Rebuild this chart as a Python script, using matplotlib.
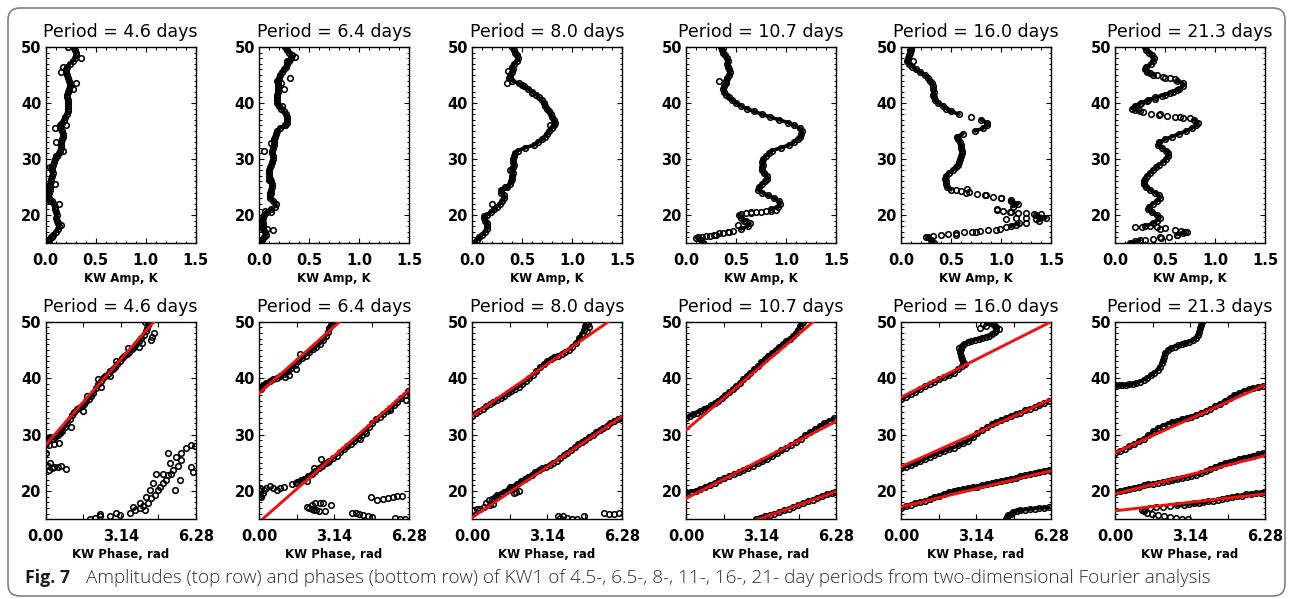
"""
Fig. 7: KW1 amplitude (top) and phase (bottom) profiles for six periods.
"""

import numpy as np
import matplotlib
matplotlib.use('Agg')
import matplotlib.pyplot as plt
from matplotlib.ticker import MultipleLocator, FixedLocator, FixedFormatter
from matplotlib.patches import FancyBboxPatch
from matplotlib.transforms import IdentityTransform

plt.rcParams['font.family'] = ['DejaVu Sans']

PERIODS = ['4.6', '6.4', '8.0', '10.7', '16.0', '21.3']

# ---- top row: amplitude (K) on a 0.5 km altitude grid, 15..50 km
ALT_GRID = np.arange(15.0, 50.01, 0.5)

AMP_46 = [0.03, 0.03, 0.05, 0.07, 0.10, 0.12, 0.13, 0.12, 0.11, 0.10, 0.11, 0.10,
          0.09, 0.09, 0.08, 0.06, 0.03, 0.02, 0.03, 0.04, 0.04, 0.04, 0.05, 0.05,
          0.06, 0.07, 0.06, 0.06, 0.07, 0.08, 0.09, 0.11, 0.13, 0.14, 0.15, 0.15,
          0.15, 0.16, 0.17, 0.17, 0.16, 0.14, 0.14, 0.16, 0.18, 0.19, 0.21, 0.22,
          0.22, 0.22, 0.22, 0.22, 0.21, 0.21, 0.22, 0.23, 0.24, 0.24, 0.23, 0.22,
          0.21, 0.20, 0.20, 0.21, 0.24, 0.27, 0.29, 0.30, 0.30, 0.29, 0.27]
AMP_64 = [0.02, 0.03, 0.05, 0.07, 0.06, 0.04, 0.04, 0.04, 0.03, 0.04, 0.05, 0.08,
          0.12, 0.16, 0.17, 0.14, 0.11, 0.11, 0.11, 0.12, 0.13, 0.13, 0.12, 0.11,
          0.10, 0.10, 0.10, 0.11, 0.12, 0.13, 0.14, 0.14, 0.13, 0.13, 0.14, 0.15,
          0.15, 0.15, 0.16, 0.17, 0.18, 0.21, 0.26, 0.28, 0.28, 0.28, 0.27, 0.25,
          0.22, 0.20, 0.18, 0.18, 0.18, 0.18, 0.19, 0.19, 0.19, 0.19, 0.19, 0.20,
          0.21, 0.23, 0.25, 0.27, 0.28, 0.30, 0.32, 0.33, 0.30, 0.28, 0.26]
AMP_80 = [0.02, 0.05, 0.07, 0.10, 0.13, 0.15, 0.15, 0.15, 0.13, 0.12, 0.15, 0.19,
          0.22, 0.25, 0.28, 0.30, 0.32, 0.32, 0.29, 0.29, 0.35, 0.38, 0.39, 0.40,
          0.40, 0.41, 0.40, 0.41, 0.42, 0.41, 0.41, 0.42, 0.43, 0.46, 0.53, 0.62,
          0.66, 0.70, 0.73, 0.75, 0.77, 0.80, 0.82, 0.83, 0.82, 0.80, 0.79, 0.77,
          0.75, 0.73, 0.72, 0.70, 0.67, 0.64, 0.60, 0.56, 0.52, 0.47, 0.40, 0.37,
          0.38, 0.40, 0.41, 0.40, 0.42, 0.45, 0.46, 0.45, 0.43, 0.42, 0.40]
AMP_107 = [0.17, 0.15, 0.12, 0.30, 0.43, 0.55, 0.62, 0.64, 0.60, 0.55, 0.53, 0.65,
           0.85, 0.92, 0.94, 0.93, 0.88, 0.82, 0.76, 0.72, 0.73, 0.76, 0.79, 0.81,
           0.81, 0.78, 0.76, 0.76, 0.77, 0.76, 0.77, 0.80, 0.83, 0.86, 0.95, 1.03,
           1.08, 1.12, 1.14, 1.15, 1.16, 1.14, 1.08, 1.02, 0.93, 0.84, 0.76, 0.68,
           0.61, 0.55, 0.50, 0.46, 0.43, 0.40, 0.38, 0.37, 0.38, 0.40, 0.40, 0.41,
           0.43, 0.44, 0.43, 0.42, 0.41, 0.42, 0.41, 0.39, 0.37, 0.36, 0.35]
AMP_160 = [0.33, 0.30, 0.27, 0.55, 0.75, 0.99, 1.10, 1.18, 1.38, 1.45, 1.35, 1.10,
           0.96, 1.12, 1.17, 1.10, 1.00, 0.85, 0.65, 0.50, 0.46, 0.45, 0.45, 0.44,
           0.45, 0.48, 0.52, 0.55, 0.57, 0.58, 0.59, 0.60, 0.61, 0.61, 0.60, 0.60,
           0.59, 0.57, 0.56, 0.62, 0.74, 0.82, 0.86, 0.86, 0.80, 0.70, 0.58, 0.50,
           0.45, 0.42, 0.37, 0.34, 0.33, 0.32, 0.33, 0.32, 0.32, 0.31, 0.29, 0.27,
           0.24, 0.19, 0.15, 0.11, 0.08, 0.06, 0.07, 0.08, 0.09, 0.09, 0.10]
AMP_213 = [0.15, 0.25, 0.45, 0.62, 0.70, 0.45, 0.30, 0.38, 0.42, 0.45, 0.42, 0.37,
           0.33, 0.34, 0.38, 0.42, 0.45, 0.44, 0.40, 0.35, 0.31, 0.29, 0.29, 0.30,
           0.32, 0.35, 0.38, 0.41, 0.44, 0.48, 0.51, 0.53, 0.53, 0.51, 0.47, 0.43,
           0.44, 0.50, 0.57, 0.64, 0.71, 0.77, 0.81, 0.83, 0.79, 0.65, 0.45, 0.25,
           0.17, 0.20, 0.26, 0.33, 0.40, 0.50, 0.58, 0.64, 0.68, 0.68, 0.62, 0.50,
           0.38, 0.32, 0.30, 0.31, 0.36, 0.38, 0.39, 0.37, 0.34, 0.31, 0.30]

# extra amplitude points (amp, alt): excursions and outliers
AMP_EXTRA_46 = [(0.09, 35.5), (0.04, 28.5), (0.10, 30.5), (0.17, 31.5), (0.20, 36.0),
                (0.27, 42.5), (0.30, 43.5), (0.35, 48.0), (0.22, 50.0), (0.15, 45.5),
                (0.17, 46.5), (0.00, 24.5), (0.04, 22.5), (0.10, 33.0), (0.13, 22.0),
                (0.15, 18.2), (0.06, 16.1), (0.09, 25.5)]
AMP_EXTRA_64 = [(0.12, 32.8), (0.05, 31.5), (0.10, 26.2), (0.12, 24.0), (0.12, 20.5),
                (0.08, 17.5), (0.14, 17.3), (0.06, 20.8), (0.18, 44.0), (0.22, 43.5),
                (0.25, 42.5), (0.26, 36.0), (0.28, 47.5), (0.36, 48.2), (0.31, 44.5),
                (0.23, 39.5)]
AMP_EXTRA_80 = [(0.35, 43.5), (0.38, 44.6), (0.36, 45.8), (0.38, 28.0), (0.78, 36.0),
                (0.60, 41.8), (0.50, 43.2), (0.33, 25.0), (0.20, 22.0), (0.12, 19.8)]
AMP_EXTRA_107 = [(0.10, 15.9), (0.16, 16.0), (0.20, 16.2), (0.24, 16.3), (0.28, 16.5),
                 (0.33, 16.7), (0.37, 16.8), (0.42, 17.0), (0.47, 17.2), (0.55, 20.2),
                 (0.60, 20.3), (0.65, 20.4), (0.70, 20.5), (0.75, 20.6), (0.80, 20.7),
                 (0.85, 20.8), (0.90, 20.9), (0.33, 44.0), (0.52, 18.3), (0.58, 19.0)]
AMP_EXTRA_160 = [(0.25, 16.0), (0.32, 16.3), (0.40, 16.5), (0.47, 16.6), (0.55, 16.8),
                 (0.63, 16.9), (0.71, 17.0), (0.79, 17.1), (0.87, 17.3), (0.95, 17.4),
                 (1.05, 17.9), (1.15, 18.3), (1.25, 18.6), (1.40, 20.1), (1.33, 20.2),
                 (1.25, 20.3), (1.17, 20.4), (1.09, 20.5), (1.02, 20.7), (0.96, 20.9),
                 (1.05, 19.3), (1.15, 19.4), (1.25, 19.4), (1.35, 19.3), (1.10, 22.6),
                 (1.00, 23.0), (0.92, 23.3), (0.84, 23.6), (0.76, 23.8), (0.68, 24.1),
                 (0.60, 24.3), (0.55, 24.4), (0.66, 24.6), (0.12, 47.5), (0.10, 49.5)]
AMP_EXTRA_213 = [(0.20, 15.3), (0.30, 15.5), (0.38, 15.7), (0.46, 15.9), (0.54, 16.1),
                 (0.62, 16.4), (0.68, 16.7), (0.72, 16.9), (0.66, 17.1), (0.20, 17.8),
                 (0.27, 17.9), (0.35, 18.0), (0.42, 17.9), (0.50, 17.6), (0.60, 17.3),
                 (0.75, 37.3), (0.68, 37.4), (0.60, 37.5), (0.52, 37.6), (0.44, 37.8),
                 (0.36, 38.1), (0.28, 38.4), (0.20, 38.8), (0.25, 39.8), (0.32, 40.3),
                 (0.40, 40.8), (0.47, 41.3), (0.55, 41.8), (0.62, 42.3), (0.60, 44.2),
                 (0.55, 44.4), (0.48, 44.7), (0.42, 45.0), (0.35, 45.3)]

# ---- bottom row: phase branches (rad, alt km) and loose points
PH46_A = [(0.0, 28.6), (0.1, 29.2), (0.2, 29.6), (0.3, 29.3), (0.4, 29.5), (0.5, 29.9),
          (0.6, 30.3), (0.7, 30.6), (0.8, 31.3), (0.9, 32.0), (1.0, 32.7), (1.1, 33.4),
          (1.2, 34.0), (1.3, 34.5), (1.4, 34.8), (1.5, 35.1), (1.6, 35.5), (1.7, 35.9),
          (1.8, 36.3), (1.9, 36.8), (2.0, 37.4), (2.1, 38.2), (2.2, 38.9), (2.3, 39.5),
          (2.4, 40.0), (2.5, 40.4), (2.6, 40.8), (2.7, 41.2), (2.8, 41.6), (2.9, 42.0),
          (3.0, 42.5), (3.1, 43.0), (3.2, 43.5), (3.3, 43.9), (3.4, 44.3), (3.5, 44.7),
          (3.6, 45.1), (3.7, 45.6), (3.8, 46.1), (3.9, 46.6), (4.0, 47.1), (4.1, 47.7),
          (4.2, 48.3), (4.25, 48.9), (4.3, 49.4), (4.3, 50.0)]
PH46_SCAT = [(0.0, 26.8), (0.15, 28.1), (0.35, 28.4), (0.55, 28.6), (1.05, 31.4), (1.55, 34.2),
             (1.75, 36.9), (2.3, 38.4), (2.2, 39.8), (2.7, 40.3), (2.95, 43.0), (3.45, 45.3),
             (3.9, 45.5), (4.05, 46.3), (4.15, 49.9), (4.45, 47.3), (4.55, 48.0), (4.4, 46.7),
             (0.1, 24.5), (0.15, 23.8), (0.25, 24.0), (0.35, 24.3), (0.5, 24.2), (0.65, 24.4),
             (0.85, 23.9), (0.2, 24.9),
             (1.85, 15.0), (2.27, 15.5), (2.69, 15.6), (3.1, 15.8), (3.52, 16.2), (3.73, 16.7),
             (3.94, 17.0), (4.08, 17.4), (4.29, 17.8), (4.43, 18.7), (4.57, 19.3), (4.71, 20.2),
             (4.78, 20.8), (4.92, 21.4), (5.06, 22.0), (5.13, 22.9), (5.26, 23.1), (5.33, 23.7),
             (5.2, 24.9), (5.47, 26.1), (5.68, 26.7), (5.89, 27.6), (6.1, 28.2), (6.24, 27.9),
             (5.13, 26.7), (4.64, 23.1), (4.92, 23.1), (5.61, 22.0), (5.68, 25.5), (6.1, 24.3),
             (6.17, 23.4), (4.22, 19.0), (3.94, 17.8), (3.66, 17.2), (4.36, 20.2), (5.4, 20.2),
             (4.5, 21.4), (2.96, 16.1), (2.27, 15.9), (2.05, 15.3), (4.15, 16.6), (5.55, 24.5)]

PH64_A = [(0.0, 38.2), (0.15, 38.7), (0.3, 39.1), (0.45, 39.5), (0.6, 39.8), (0.75, 40.0),
          (0.9, 40.3), (1.05, 40.7), (1.2, 41.2), (1.35, 41.8), (1.5, 42.4), (1.65, 43.0),
          (1.8, 43.5), (1.95, 44.0), (2.1, 44.6), (2.25, 45.1), (2.4, 45.6), (2.55, 46.1),
          (2.7, 46.8), (2.8, 47.5), (2.9, 48.2), (2.95, 48.9), (3.0, 49.5), (3.05, 50.0)]
PH64_B = [(1.6, 21.6), (1.75, 21.9), (1.9, 22.2), (2.05, 22.6), (2.2, 23.0), (2.35, 23.5),
          (2.5, 24.0), (2.65, 24.4), (2.8, 24.9), (2.95, 25.3), (3.1, 25.8), (3.25, 26.3),
          (3.4, 26.9), (3.55, 27.4), (3.7, 27.9), (3.85, 28.4), (4.0, 28.9), (4.15, 29.4),
          (4.3, 30.0), (4.45, 30.7), (4.6, 31.4), (4.75, 32.1), (4.9, 32.7), (5.05, 33.2),
          (5.2, 33.7), (5.35, 34.2), (5.5, 34.7), (5.65, 35.2), (5.8, 35.8), (5.95, 36.4),
          (6.1, 37.1), (6.25, 37.8)]
PH64_SCAT = [(1.1, 40.2), (1.25, 40.5), (1.55, 41.7), (1.7, 44.2), (0.1, 38.0),
             (2.0, 21.8), (2.3, 24.0), (2.6, 25.6), (2.9, 25.1), (4.25, 29.2), (4.5, 30.2),
             (6.15, 36.1), (5.5, 34.3),
             (0.02, 19.5), (0.05, 20.0), (0.08, 20.4), (0.05, 19.1), (0.15, 19.7), (0.2, 20.2),
             (0.3, 20.6), (0.45, 20.9), (0.6, 20.5), (0.75, 20.2), (0.9, 20.6), (1.05, 20.8),
             (1.4, 21.2), (1.55, 21.4), (0.1, 18.9),
             (2.0, 17.2), (2.1, 17.0), (2.2, 16.8), (2.3, 16.7), (2.4, 16.6), (2.2, 17.5),
             (2.35, 17.8), (2.55, 17.8), (2.75, 16.4), (3.0, 17.5), (2.7, 17.9), (2.5, 16.5),
             (3.9, 16.2), (4.05, 16.1), (4.2, 15.9), (4.35, 15.8), (4.55, 15.6), (4.75, 15.4),
             (4.7, 18.9), (4.95, 18.5), (5.2, 18.6), (5.4, 18.8), (5.6, 19.0), (5.8, 19.1),
             (6.0, 19.2), (5.7, 15.2), (5.9, 15.1), (6.1, 15.0)]

PH80_A = [(0.0, 33.3), (0.15, 33.8), (0.3, 34.2), (0.45, 34.6), (0.6, 35.0), (0.75, 35.4),
          (0.9, 35.7), (1.05, 36.1), (1.2, 36.5), (1.35, 36.9), (1.5, 37.3), (1.65, 37.7),
          (1.8, 38.1), (1.95, 38.5), (2.1, 39.0), (2.25, 39.5), (2.4, 40.0), (2.55, 40.6),
          (2.7, 41.2), (2.85, 41.9), (3.0, 42.5), (3.15, 43.0), (3.3, 43.4), (3.45, 43.7),
          (3.6, 44.0), (3.75, 44.3), (3.9, 44.6), (4.05, 45.0), (4.2, 45.6), (4.35, 46.3),
          (4.5, 47.1), (4.6, 47.9), (4.68, 48.6), (4.72, 49.3), (4.76, 50.0)]
PH80_B = [(0.85, 18.6), (0.95, 19.0), (1.05, 19.3), (1.2, 19.5), (1.35, 19.8),
          (1.5, 20.2), (1.6, 20.8), (1.8, 20.9), (1.9, 21.3), (2.05, 21.7),
          (2.2, 22.1), (2.35, 22.5), (2.5, 22.9), (2.65, 23.3), (2.8, 23.7), (2.95, 24.0),
          (3.1, 24.3), (3.25, 24.6), (3.4, 25.0), (3.55, 25.4), (3.7, 25.9), (3.85, 26.4),
          (4.0, 26.8), (4.15, 27.3), (4.3, 27.8), (4.45, 28.3), (4.6, 28.7), (4.75, 29.1),
          (4.9, 29.5), (5.05, 30.0), (5.2, 30.4), (5.35, 30.8), (5.5, 31.2), (5.65, 31.6),
          (5.8, 32.0), (5.95, 32.4), (6.1, 32.7), (6.25, 33.0)]
PH80_SCAT = [(4.85, 49.6), (4.9, 49.0), (4.8, 48.3),
             (0.05, 16.7), (0.2, 16.9), (0.35, 16.8), (0.5, 17.2), (0.6, 17.8), (0.7, 18.4),
             (0.75, 17.6), (1.7, 20.4),
             (1.85, 19.9), (1.75, 19.7), (1.95, 20.0), (0.9, 17.7),
             (3.6, 15.5), (3.7, 15.3), (3.8, 15.5), (4.0, 15.2), (4.2, 15.1), (4.4, 15.1),
             (4.7, 15.5), (5.55, 16.1), (5.75, 15.9), (5.95, 16.0), (6.15, 16.2)]

PH107_A = [(0.0, 33.0), (0.15, 33.3), (0.3, 33.6), (0.45, 33.9), (0.6, 34.2), (0.75, 34.5),
           (0.9, 34.8), (1.05, 35.2), (1.2, 35.6), (1.35, 36.0), (1.5, 36.5), (1.65, 37.0),
           (1.8, 37.5), (1.95, 38.0), (2.1, 38.6), (2.25, 39.2), (2.4, 39.8), (2.55, 40.4),
           (2.7, 41.0), (2.85, 41.6), (3.0, 42.2), (3.15, 42.8), (3.3, 43.4), (3.45, 44.0),
           (3.6, 44.5), (3.75, 45.0), (3.9, 45.5), (4.05, 46.0), (4.2, 46.5), (4.35, 47.0),
           (4.5, 47.5), (4.6, 48.0), (4.7, 48.6), (4.78, 49.2), (4.85, 49.8), (4.9, 50.0)]
PH107_B = [(0.0, 19.8), (0.2, 19.9), (0.4, 20.1), (0.6, 20.3), (0.8, 20.7), (1.0, 21.1),
           (1.2, 21.5), (1.4, 21.9), (1.6, 22.3), (1.8, 22.7), (2.0, 23.0), (2.2, 23.3),
           (2.4, 23.7), (2.6, 24.1), (2.8, 24.5), (3.0, 24.9), (3.2, 25.3), (3.4, 25.7),
           (3.6, 26.2), (3.8, 26.7), (4.0, 27.2), (4.2, 27.7), (4.4, 28.2), (4.6, 28.7),
           (4.8, 29.3), (5.0, 29.9), (5.2, 30.4), (5.4, 31.0), (5.6, 31.5), (5.8, 32.0),
           (6.0, 32.5), (6.2, 32.9)]
PH107_C = [(2.95, 15.0), (3.1, 15.2), (3.3, 15.5), (3.5, 15.8), (3.7, 16.0), (3.9, 16.3),
           (4.1, 16.6), (4.3, 16.9), (4.5, 17.2), (4.7, 17.5), (4.9, 17.9), (5.1, 18.2),
           (5.3, 18.5), (5.5, 18.8), (5.7, 19.1), (5.9, 19.4), (6.1, 19.6), (6.25, 19.8)]
PH107_SCAT = []

PH160_A = [(0.0, 36.3), (0.2, 36.7), (0.4, 37.2), (0.6, 37.6), (0.8, 38.1), (1.0, 38.6),
           (1.2, 39.0), (1.4, 39.4), (1.6, 39.8), (1.8, 40.2), (2.0, 40.5), (2.2, 40.9),
           (2.4, 41.6), (2.55, 42.2), (2.6, 42.8), (2.55, 43.4), (2.5, 44.0), (2.48, 44.6),
           (2.5, 45.2), (2.55, 45.7), (2.65, 46.1), (2.8, 46.4), (2.95, 46.6), (3.1, 46.8),
           (3.25, 47.0), (3.4, 47.1), (3.55, 47.3), (3.7, 47.5), (3.82, 47.8), (3.92, 48.2),
           (3.98, 48.6), (3.98, 49.0), (3.9, 49.4), (3.75, 49.7), (3.6, 50.0)]
PH160_B = [(0.0, 24.0), (0.2, 24.3), (0.4, 24.6), (0.6, 24.9), (0.8, 25.3), (1.0, 25.7),
           (1.2, 26.1), (1.4, 26.4), (1.6, 26.8), (1.8, 27.1), (2.0, 27.4), (2.2, 27.7),
           (2.4, 28.1), (2.6, 28.5), (2.8, 28.9), (3.0, 29.5), (3.2, 30.2), (3.4, 30.8),
           (3.6, 31.3), (3.8, 31.8), (4.0, 32.2), (4.2, 32.6), (4.4, 32.9), (4.6, 33.3),
           (4.8, 33.6), (5.0, 33.9), (5.2, 34.3), (5.4, 34.6), (5.6, 34.9), (5.8, 35.2),
           (6.0, 35.6), (6.2, 36.0)]
PH160_C = [(0.0, 17.0), (0.2, 17.3), (0.4, 17.6), (0.6, 17.9), (0.8, 18.1), (1.0, 18.3),
           (1.2, 18.6), (1.4, 18.9), (1.6, 19.2), (1.8, 19.5), (2.0, 19.8), (2.2, 20.0),
           (2.4, 20.2), (2.6, 20.4), (2.8, 20.5), (3.0, 20.7), (3.2, 20.8), (3.4, 21.0),
           (3.6, 21.2), (3.8, 21.4), (4.0, 21.6), (4.2, 21.8), (4.4, 22.0), (4.6, 22.2),
           (4.8, 22.4), (5.0, 22.6), (5.2, 22.8), (5.4, 23.0), (5.6, 23.2), (5.8, 23.4),
           (6.0, 23.6), (6.2, 23.8)]
PH160_D = [(4.4, 15.0), (4.45, 15.4), (4.5, 15.7), (4.6, 16.0), (4.7, 16.3), (4.85, 16.5),
           (5.0, 16.6), (5.2, 16.7), (5.4, 16.8), (5.6, 16.9), (5.8, 17.0), (6.0, 17.0),
           (6.2, 17.1)]
PH160_SCAT = [(3.45, 49.6), (3.55, 49.3), (3.3, 48.9), (4.1, 48.7), (2.42, 45.3), (2.7, 42.5)]

PH213_A = [(0.0, 38.7), (0.15, 38.7), (0.3, 38.8), (0.45, 38.8), (0.6, 38.9), (0.75, 39.0),
           (0.9, 39.2), (1.05, 39.4), (1.2, 39.7), (1.35, 40.1), (1.5, 40.5), (1.65, 41.0),
           (1.8, 41.5), (1.88, 42.0), (1.95, 42.6), (2.0, 43.2), (2.05, 43.8), (2.1, 44.4),
           (2.2, 44.9), (2.35, 45.3), (2.5, 45.6), (2.65, 45.8), (2.8, 46.0), (2.95, 46.2),
           (3.1, 46.4), (3.25, 46.7), (3.38, 47.1), (3.47, 47.6), (3.53, 48.2), (3.57, 48.8),
           (3.6, 49.4), (3.63, 50.0)]
PH213_B = [(0.0, 26.8), (0.2, 27.1), (0.4, 27.5), (0.6, 27.9), (0.8, 28.3), (1.0, 28.8),
           (1.2, 29.3), (1.4, 29.9), (1.6, 30.6), (1.8, 31.2), (2.0, 31.6), (2.2, 31.9),
           (2.4, 32.2), (2.6, 32.4), (2.8, 32.7), (3.0, 32.9), (3.2, 33.2), (3.4, 33.5),
           (3.6, 33.8), (3.8, 34.2), (4.0, 34.6), (4.2, 35.0), (4.4, 35.5), (4.6, 36.0),
           (4.8, 36.5), (5.0, 37.0), (5.2, 37.4), (5.4, 37.8), (5.6, 38.0), (5.8, 38.2),
           (6.0, 38.4), (6.2, 38.6)]
PH213_C = [(0.0, 19.8), (0.2, 20.0), (0.4, 20.2), (0.6, 20.4), (0.8, 20.6), (1.0, 20.8),
           (1.2, 21.0), (1.4, 21.2), (1.6, 21.3), (1.8, 21.5), (2.0, 21.6), (2.2, 21.8),
           (2.4, 21.9), (2.6, 22.1), (2.8, 22.3), (3.0, 22.5), (3.2, 22.7), (3.4, 22.9),
           (3.6, 23.2), (3.8, 23.5), (4.0, 23.9), (4.2, 24.3), (4.4, 24.6), (4.6, 24.9),
           (4.8, 25.2), (5.0, 25.4), (5.2, 25.7), (5.4, 25.9), (5.6, 26.1), (5.8, 26.3),
           (6.0, 26.5), (6.2, 26.7)]
PH213_D = [(2.6, 17.5), (2.9, 17.6), (3.1, 17.7), (3.3, 17.8), (3.5, 17.9), (3.7, 18.0),
           (3.9, 18.2), (4.1, 18.3), (4.3, 18.5), (4.5, 18.6), (4.7, 18.8), (4.9, 18.9),
           (5.1, 19.1), (5.3, 19.2), (5.5, 19.4), (5.7, 19.5), (5.9, 19.6), (6.1, 19.7),
           (6.25, 19.8)]
PH213_SCAT = [(1.25, 16.9), (1.45, 17.0), (1.7, 17.1), (2.0, 17.2), (2.3, 17.3),
              (1.15, 16.7), (1.2, 16.4), (1.35, 16.1), (1.55, 15.9), (1.8, 15.7), (2.05, 15.5),
              (2.3, 15.4), (2.55, 15.25), (2.8, 15.1), (3.05, 15.0)]

# linear fits (intercept km at phase 0, slope km/rad)
FIT_46 = [(28.2, 4.81)]
FIT_64 = [(37.3, 3.76), (14.48, 3.73)]
FIT_80 = [(33.3, 2.92), (15.3, 2.85)]
FIT_107 = [(30.8, 3.60), (18.7, 2.17), (10.47, 1.50)]
FIT_160 = [(36.6, 2.13), (24.3, 1.90), (17.2, 1.02)]
FIT_213 = [(26.8, 1.91), (19.5, 1.08), (16.5, 0.48)]

AMPS = [AMP_46, AMP_64, AMP_80, AMP_107, AMP_160, AMP_213]
AMP_EXTRAS = [AMP_EXTRA_46, AMP_EXTRA_64, AMP_EXTRA_80, AMP_EXTRA_107,
              AMP_EXTRA_160, AMP_EXTRA_213]
PH_BRANCHES = [[PH46_A], [PH64_A, PH64_B], [PH80_A, PH80_B],
               [PH107_A, PH107_B, PH107_C], [PH160_A, PH160_B, PH160_C, PH160_D],
               [PH213_A, PH213_B, PH213_C, PH213_D]]
PH_SCATTER = [PH46_SCAT, PH64_SCAT, PH80_SCAT, PH107_SCAT, PH160_SCAT, PH213_SCAT]
FITS = [FIT_46, FIT_64, FIT_80, FIT_107, FIT_160, FIT_213]

W, H = 1293, 599
LEFTS = [45.7, 259, 472, 686, 901, 1115]
AX_W = 150

MK = dict(ls='none', marker='o', ms=4.0, mfc='none', mec='black', mew=1.15)
CORE = dict(color='black', lw=2.6, solid_capstyle='round', zorder=1.5)


def gapped(x, y, max_step):
    # keep the core line only where neighbouring samples are close
    x = np.asarray(x, float)
    y = np.asarray(y, float)
    xs, ys = [x[0]], [y[0]]
    for k in range(1, len(x)):
        if abs(x[k] - x[k - 1]) > max_step:
            xs.append(np.nan)
            ys.append(np.nan)
        xs.append(x[k])
        ys.append(y[k])
    return np.array(xs), np.array(ys)


def style_axes(ax):
    for sp in ax.spines.values():
        sp.set_linewidth(1.0)
    ax.tick_params(which='both', direction='in', top=True, right=True, pad=3)
    ax.tick_params(axis='x', which='both', pad=7)
    ax.tick_params(which='major', length=3.5, width=0.8)
    ax.tick_params(which='minor', length=1.8, width=0.7)
    ax.set_ylim(15, 50)
    ax.yaxis.set_major_locator(FixedLocator([20, 30, 40, 50]))
    ax.yaxis.set_minor_locator(MultipleLocator(1))
    for lab in ax.get_xticklabels() + ax.get_yticklabels():
        lab.set_fontsize(10.5)
        lab.set_fontweight('bold')


def main():
    fig = plt.figure(figsize=(W / 100, H / 100), dpi=100)

    for i, per in enumerate(PERIODS):
        # amplitude
        ax = fig.add_axes([LEFTS[i] / W, 1 - 243 / H, AX_W / W, 196 / H])
        gx, gy = gapped(AMPS[i], ALT_GRID, 0.1)
        ax.plot(gx, gy, **CORE)
        ax.plot(AMPS[i], ALT_GRID, **MK)
        ex = np.array(AMP_EXTRAS[i])
        ax.plot(ex[:, 0], ex[:, 1], **MK)
        ax.set_xlim(0, 1.5)
        ax.xaxis.set_major_locator(FixedLocator([0, 0.5, 1.0, 1.5]))
        ax.xaxis.set_major_formatter(FixedFormatter(['0.0', '0.5', '1.0', '1.5']))
        ax.xaxis.set_minor_locator(MultipleLocator(0.1))
        style_axes(ax)
        ax.set_xlabel('KW Amp, K', fontsize=8.5, fontweight='bold', labelpad=3)
        ax.set_title(f'Period = {per} days', fontsize=12.5, pad=7)

        # phase
        ax = fig.add_axes([LEFTS[i] / W, 1 - 519.3 / H, AX_W / W, 197.6 / H])
        for br in PH_BRANCHES[i]:
            b = np.array(br)
            ax.plot(b[:, 0], b[:, 1], **CORE)
            ax.plot(b[:, 0], b[:, 1], **MK)
        if PH_SCATTER[i]:
            s = np.array(PH_SCATTER[i])
            ax.plot(s[:, 0], s[:, 1], **MK)
        xs = np.array([0, 2 * np.pi])
        for b0, m in FITS[i]:
            ax.plot(xs, b0 + m * xs, color='#f01010', lw=2.1, zorder=5)
        ax.set_xlim(0, 2 * np.pi)
        ax.xaxis.set_major_locator(FixedLocator(np.pi * np.array([0, 0.5, 1, 1.5, 2])))
        ax.xaxis.set_major_formatter(FixedFormatter(['0.00', '', '3.14', '', '6.28']))
        style_axes(ax)
        ax.set_xlabel('KW Phase, rad', fontsize=8.5, fontweight='bold', labelpad=3)
        ax.set_title(f'Period = {per} days', fontsize=12.5, pad=7)

    # caption
    fig.text(25 / W, 1 - 583 / H, 'Fig. 7', fontsize=12.8, fontweight='bold',
             family=['Open Sans', 'DejaVu Sans'], color='#1a1a1a', va='baseline')
    fig.text(86 / W, 1 - 583 / H,
             'Amplitudes (top row) and phases (bottom row) of KW1 of 4.5-, 6.5-, 8-, 11-, '
             '16-, 21- day periods from two-dimensional Fourier analysis',
             fontsize=13.6, fontweight='light', family=['Open Sans', 'DejaVu Sans'],
             color='#2e2e2e', va='baseline')

    # rounded frame
    frame = FancyBboxPatch((8, 3), W - 16, H - 11, boxstyle='round,pad=0,rounding_size=12',
                           transform=IdentityTransform(), fill=False,
                           edgecolor='#808080', lw=1.2)
    fig.patches.append(frame)

    fig.savefig('out.png', dpi=100)
    plt.close(fig)


if __name__ == '__main__':
    main()
